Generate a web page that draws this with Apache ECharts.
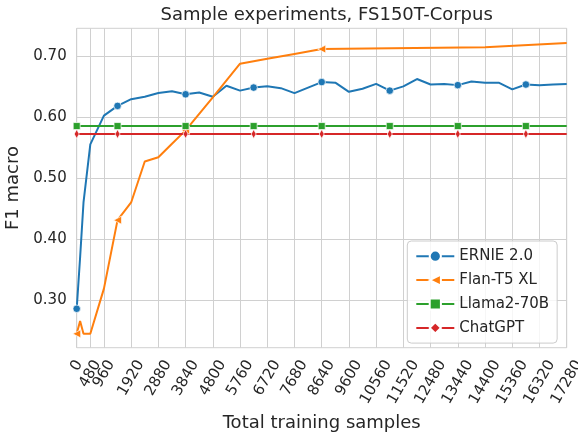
<!DOCTYPE html>
<html><head><meta charset="utf-8">
<script src="https://cdn.jsdelivr.net/npm/echarts@6/dist/echarts.min.js"></script>
<style>html,body{margin:0;padding:0;background:#fff}#c{width:578px;height:433px}</style>
</head><body><div id="c"></div>
<script>
// ---- data ----
const xTicks = [0,480,960,1920,2880,3840,4800,5760,6720,7680,8640,9600,10560,11520,12480,13440,14400,15360,16320,17280];
const yTicks = [0.30,0.40,0.50,0.60,0.70];

const ernieX = [0,120,240,480,960,1440,1920,2400,2880,3360,3840,4320,4800,5280,5760,6240,6720,7200,7680,8160,8640,9120,9600,10080,10560,11040,11520,12000,12480,12960,13440,13920,14400,14880,15360,15840,16320,16800,17280];
const ernieY = [0.286,0.37,0.46,0.555,0.602,0.618,0.629,0.633,0.639,0.642,0.637,0.640,0.633,0.651,0.643,0.648,0.650,0.647,0.639,0.648,0.657,0.656,0.641,0.646,0.654,0.643,0.650,0.662,0.653,0.654,0.652,0.658,0.656,0.656,0.645,0.653,0.652,0.653,0.654];

const flanX = [0,120,240,480,960,1440,1920,2400,2880,3360,3840,4800,5760,6720,7680,8640,14400,17280];
const flanY = [0.245,0.266,0.245,0.245,0.319,0.431,0.460,0.527,0.534,0.556,0.578,0.632,0.687,0.695,0.703,0.711,0.714,0.721];

const llamaY = ernieX.map(() => 0.585);
const chatY = ernieX.map(() => 0.572);

const seriesNames = ['ERNIE 2.0','Flan-T5 XL','Llama2-70B','ChatGPT'];

// ---- layout ----
const G = {left: 76.7, right: 11.3, top: 28.3, bottom: 85.3};
const FONT = 'DejaVu Sans', TXT = '#262626', GRID = '#d0d0d0';

function pts(xs, ys, markEvery) {
  return xs.map((x, i) => (i % markEvery === 0) ? [x, ys[i]] : {value: [x, ys[i]], symbol: 'none'});
}
function mk(name, xs, ys, color, symbol, size, rot) {
  return {
    name, type: 'line', data: pts(xs, ys, 5), symbol, symbolSize: size, symbolRotate: rot || 0,
    lineStyle: {color, width: 2}, itemStyle: {color, borderColor: '#fff', borderWidth: 0.7},
    emphasis: {disabled: true}, showSymbol: true
  };
}
const rich = {};
[1,2,3,4,5].forEach(n => { const D = 4.13*(n-1); rich['r'+n] = {fontSize: 15, fontFamily: FONT, color: TXT, padding: [D, 1.732*D, 0, 0]}; });

const chart = echarts.init(document.getElementById('c'), null, {renderer: 'canvas'});
chart.setOption({
  animation: false,
  backgroundColor: '#fff',
  title: {text: 'Sample experiments, FS150T-Corpus', left: 321.7, top: 1.5, textAlign: 'center',
    textStyle: {fontSize: 18, fontWeight: 'normal', color: TXT, fontFamily: FONT}},
  grid: {left: G.left, right: G.right, top: G.top, bottom: G.bottom, show: true, borderColor: GRID, borderWidth: 1,
    containLabel: false, outerBoundsMode: 'none'},
  legend: {
    orient: 'vertical', left: 407.3, top: 241, itemWidth: 38, itemHeight: 14, itemGap: 8.9,
    padding: [7.7, 8, 7.7, 8], backgroundColor: 'rgba(255,255,255,0.8)', borderColor: '#cccccc', borderWidth: 1, borderRadius: 4,
    textStyle: {fontSize: 15, color: TXT, fontFamily: FONT}, data: seriesNames
  },
  xAxis: {
    type: 'value', min: 0, max: 17280,
    name: 'Total training samples', nameLocation: 'middle', nameGap: 64,
    nameTextStyle: {fontSize: 18, color: TXT, fontFamily: FONT},
    axisLine: {show: false},
    splitLine: {show: true, lineStyle: {color: GRID, width: 1}},
    axisTick: {show: false, customValues: xTicks},
    axisLabel: {customValues: xTicks, rotate: 60, align: 'center', verticalAlign: 'middle', margin: 18,
      fontSize: 15, color: TXT, fontFamily: FONT, hideOverlap: false,
      formatter: v => '{r' + String(v).length + '|' + v + '}', rich}
  },
  yAxis: {
    type: 'value', min: 0.2223, max: 0.745,
    name: 'F1 macro', nameLocation: 'middle', nameGap: 47, nameRotate: 90,
    nameTextStyle: {fontSize: 18, color: TXT, fontFamily: FONT},
    axisLine: {show: false},
    splitLine: {show: true, lineStyle: {color: GRID, width: 1}},
    axisTick: {show: false, customValues: yTicks},
    axisLabel: {customValues: yTicks, margin: 10, fontSize: 15, color: TXT, fontFamily: FONT, formatter: v => v.toFixed(2)}
  },
  series: [
    mk(seriesNames[0], ernieX, ernieY, '#1f77b4', 'circle', 7.5),
    mk(seriesNames[1], flanX, flanY, '#ff7f0e', 'triangle', 8, 90),
    mk(seriesNames[2], ernieX, llamaY, '#2ca02c', 'rect', 7),
    mk(seriesNames[3], ernieX, chatY, '#d62728', 'diamond', [5, 9])
  ]
});
</script></body></html>
